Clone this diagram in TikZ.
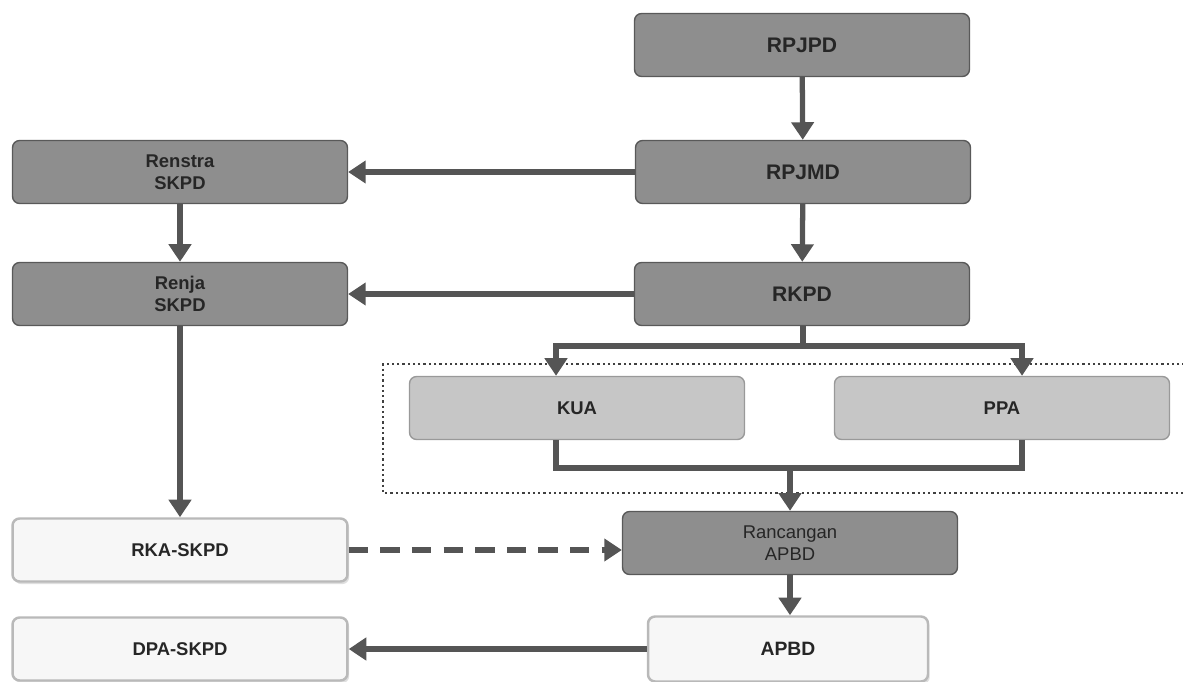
\documentclass[tikz,border=0pt]{standalone}
\usepackage{fontspec}
\setmainfont{Liberation Sans}
\usetikzlibrary{arrows.meta,shadows}
\definecolor{boxdark}{HTML}{8E8E8E}
\definecolor{boxlight}{HTML}{C6C6C6}
\definecolor{boxwhite}{HTML}{F7F7F7}
\definecolor{linegray}{HTML}{555555}

\begin{document}
\begin{tikzpicture}[x=0.02cm,y=-0.02cm,->,>={Triangle[length=10pt,width=12.5pt]},
                    line width=3pt,draw=linegray]
  \tikzstyle{dark}=[draw=gray!70!black,line width=0.8pt,fill=boxdark,rounded corners=4pt,
                    minimum width=6.7cm,minimum height=1.26cm,text=black!85,align=center,
                    font=\fontsize{10.5}{12.5}\selectfont\bfseries]
  \tikzstyle{big}=[font=\large\bfseries]
  \tikzstyle{light}=[dark,fill=boxlight,draw=gray!80]
  \tikzstyle{white}=[dark,fill=boxwhite,draw=gray!55,line width=1.4pt,
                     drop shadow={opacity=0.25,shadow xshift=1pt,shadow yshift=-1.5pt}]

  \useasboundingbox (0,0) rectangle (1183,682);

  \node[dark,big] (rpjpd)   at (802,45)  {RPJPD};
  \node[dark,big] (rpjmd)   at (803,172) {RPJMD};
  \node[dark]     (renstra) at (180,172) {Renstra\\SKPD};
  \node[dark]     (renja)   at (180,294) {Renja\\SKPD};
  \node[dark,big] (rkpd)    at (802,294) {RKPD};
  \node[light]    (kua)     at (577,408) {KUA};
  \node[light]    (ppa)     at (1002,408) {PPA};
  \node[dark,font=\fontsize{10.5}{12.5}\selectfont] (ranc) at (790,543) {Rancangan\\APBD};
  \node[white,minimum width=5.6cm,minimum height=1.3cm,
        font=\fontsize{11}{13}\selectfont\bfseries] (apbd) at (788,649) {APBD};
  \node[white]    (rka)     at (180,550) {RKA-SKPD};
  \node[white]    (dpa)     at (180,649) {DPA-SKPD};

  \coordinate (split) at (803,346);
  \coordinate (merge) at (790,468);

  % dotted frame round KUA and PPA
  \draw[-,black!75,line width=1.3pt,dash pattern=on 1.3pt off 1.7pt]
    (1190,364) -- (383,364) -- (383,493) -- (1190,493);

  \draw (rpjpd) -- (rpjmd);
  \draw (rpjmd) -- (renstra);
  \draw (renstra) -- (renja);
  \draw (rpjmd) -- (rkpd);
  \draw (rkpd) -- (renja);
  \draw[-] (rkpd.south -| split) -- (split);
  \draw (split) -| ([xshift=-0.42cm]kua.north);
  \draw (split) -| ([xshift=0.4cm]ppa.north);
  \draw[-] ([xshift=-0.42cm]kua.south) |- (merge) -| ([xshift=0.4cm]ppa.south);
  \draw (merge) -- (ranc);
  \draw (renja) -- (rka);
  \draw[dash pattern=on 11pt off 7pt] (rka.east) -- (rka.east -| ranc.west);
  \draw (ranc.south -| merge) -- (apbd.north -| merge);
  \draw (apbd) -- (dpa);
\end{tikzpicture}
\end{document}
